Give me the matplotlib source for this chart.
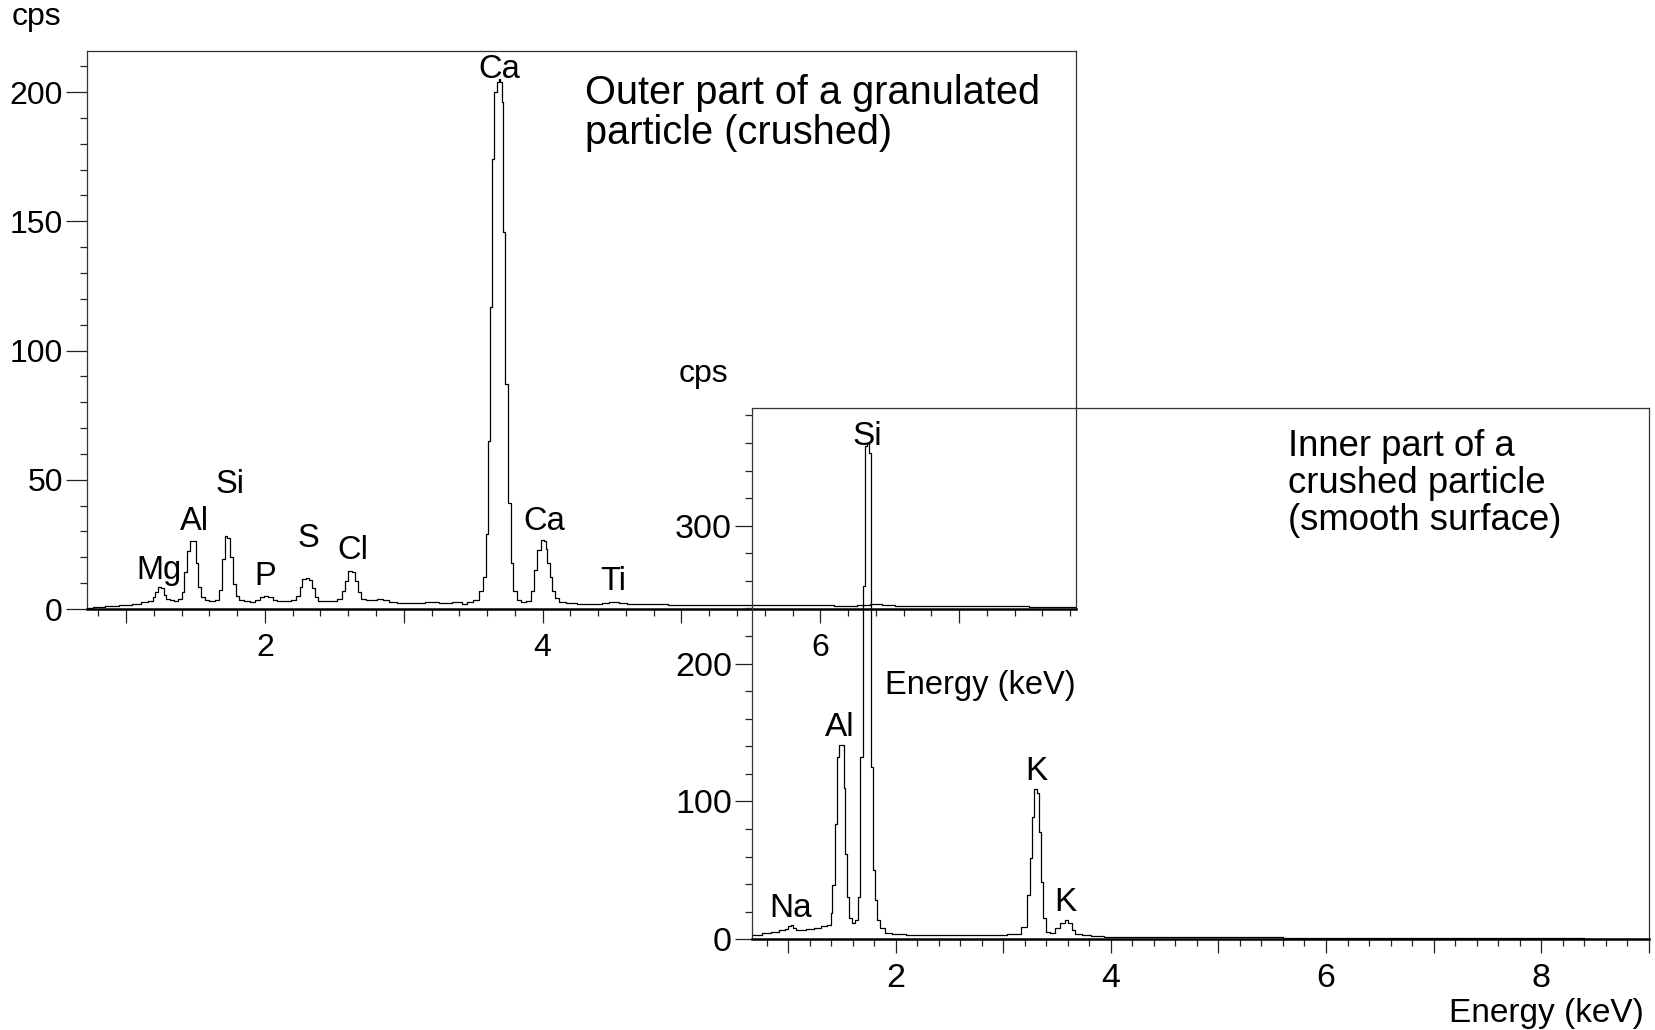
import matplotlib.pyplot as plt
from matplotlib.ticker import MultipleLocator, FuncFormatter

plt.rcParams['font.family'] = ['Liberation Sans', 'DejaVu Sans']

# outer part of a granulated particle (upper spectrum)
outer_kev = [0.72, 0.80, 0.90, 1.00, 1.08, 1.14, 1.18, 1.20, 1.22, 1.24, 1.26, 1.28, 1.30,
             1.33, 1.36, 1.39, 1.41, 1.43, 1.45, 1.47, 1.49, 1.51, 1.53, 1.55, 1.58, 1.62,
             1.66, 1.68, 1.70, 1.72, 1.74, 1.76, 1.78, 1.80, 1.83, 1.87, 1.91, 1.95, 1.98,
             2.01, 2.04, 2.07, 2.11, 2.16, 2.21, 2.24, 2.26, 2.28, 2.31, 2.33, 2.35, 2.37,
             2.40, 2.45, 2.50, 2.54, 2.57, 2.59, 2.61, 2.64, 2.66, 2.68, 2.71, 2.75, 2.79,
             2.83, 2.87, 2.92, 2.98, 3.10, 3.20, 3.30, 3.40, 3.44, 3.47, 3.52, 3.56, 3.58,
             3.60, 3.61, 3.63, 3.64, 3.66, 3.68, 3.69, 3.70, 3.71, 3.725, 3.74, 3.76, 3.78,
             3.80, 3.83, 3.86, 3.90, 3.93, 3.95, 3.975, 4.00, 4.02, 4.03, 4.04, 4.06, 4.08,
             4.10, 4.13, 4.20, 4.30, 4.40, 4.46, 4.50, 4.53, 4.57, 4.65, 4.80, 5.00, 5.20,
             5.40, 5.60, 5.80, 6.00, 6.20, 6.33, 6.38, 6.42, 6.47, 6.60, 6.80, 7.00, 7.20,
             7.40, 7.60, 7.84]
outer_cps = [0.5, 0.9, 1.3, 1.7, 2.0, 2.6, 3.2, 4.6, 6.5, 8.4, 8.0, 5.6, 4.0,
             3.4, 3.3, 4.0, 6.5, 14.5, 22.5, 26.3, 26.3, 18.0, 8.5, 4.6, 3.4, 3.0,
             3.6, 7.5, 19.5, 28.1, 27.5, 20.0, 9.5, 5.0, 3.6, 3.0, 2.9, 3.6, 4.6,
             5.2, 4.8, 3.6, 3.1, 3.0, 3.5, 5.2, 8.5, 11.6, 12.2, 11.2, 8.0, 4.8,
             3.3, 3.3, 3.3, 3.9, 6.8, 11.0, 14.7, 14.5, 10.8, 6.5, 3.9, 3.4, 3.4,
             3.8, 3.5, 2.8, 2.5, 2.5, 2.6, 2.5, 2.6, 2.0, 2.8, 3.6, 7.0, 12.5,
             28.9, 65.0, 117.0, 174.0, 200.0, 204.0, 205.0, 204.0, 196.0, 146.0, 87.0, 41.0, 18.0,
             7.0, 3.6, 2.9, 3.0, 7.0, 15.2, 22.7, 26.9, 26.2, 23.4, 18.0, 12.5, 7.0,
             4.3, 2.9, 2.2, 2.0, 2.0, 2.3, 2.9, 2.9, 2.3, 1.9, 1.8, 1.7, 1.6,
             1.6, 1.5, 1.5, 1.4, 1.3, 1.4, 2.0, 1.9, 1.5, 1.3, 1.2, 1.2, 1.1,
             1.0, 0.9, 0.8]
outer_peaks = ['Mg', 'Al', 'Si', 'P', 'S', 'Cl', 'Ca', 'Ca', 'Ti']
outer_peak_kev = [1.24, 1.49, 1.75, 2.00, 2.31, 2.63, 3.69, 4.01, 4.51]
outer_peak_cps = [15.1, 33.9, 48.3, 12.7, 27.4, 22.7, 208.6, 34.0, 10.6]

# inner part of a crushed particle (lower spectrum)
inner_kev = [0.66, 0.72, 0.80, 0.88, 0.95, 0.99, 1.01, 1.04, 1.06, 1.09, 1.13, 1.20, 1.28,
             1.34, 1.39, 1.405, 1.42, 1.445, 1.465, 1.485, 1.51, 1.525, 1.54, 1.56, 1.58,
             1.61, 1.64, 1.665, 1.68, 1.705, 1.725, 1.74, 1.76, 1.775, 1.795, 1.815, 1.835,
             1.865, 1.94, 2.00, 2.20, 2.40, 2.60, 2.80, 2.95, 3.12, 3.21, 3.24, 3.26, 3.28,
             3.30, 3.32, 3.34, 3.36, 3.38, 3.41, 3.455, 3.50, 3.55, 3.59, 3.62, 3.65, 3.69,
             3.77, 3.87, 4.00, 4.30, 4.60, 5.00, 5.40, 5.80, 6.20, 6.60, 7.00, 7.40, 7.80,
             8.20, 8.60, 9.00]
inner_cps = [2.8, 3.5, 4.5, 5.5, 6.5, 7.5, 10.0, 10.4, 8.0, 7.0, 6.6, 7.3, 8.2,
             9.5, 10.5, 18.8, 39.4, 84.0, 132.0, 141.0, 141.0, 110.0, 62.0, 31.0, 15.3,
             11.6, 14.0, 31.0, 132.0, 256.0, 358.0, 360.0, 353.0, 125.0, 50.0, 28.6, 14.0,
             8.0, 4.4, 3.6, 3.5, 3.4, 3.4, 3.3, 3.2, 4.0, 9.2, 32.0, 58.7, 89.0,
             108.7, 105.8, 78.0, 41.8, 15.3, 5.6, 4.9, 8.0, 12.1, 14.1, 12.1, 6.8, 3.9,
             3.2, 2.5, 2.0, 1.8, 1.7, 1.5, 1.4, 1.3, 1.2, 1.1, 1.0, 0.9, 0.8,
             0.7, 0.6, 0.5]
inner_peaks = ['Na', 'Al', 'Si', 'K', 'K']
inner_peak_kev = [1.02, 1.48, 1.735, 3.31, 3.58]
inner_peak_cps = [22.2, 153.8, 365.0, 121.7, 26.8]


def even_labels(v, pos):
    n = int(round(v))
    return str(n) if n % 2 == 0 else ''


def style(ax, xlim, ylim, ymajor, yminor, fs, ylen):
    ax.patch.set_visible(False)
    ax.set_xlim(xlim)
    ax.set_ylim(ylim)
    ax.xaxis.set_major_locator(MultipleLocator(1))
    ax.xaxis.set_minor_locator(MultipleLocator(0.2))
    ax.xaxis.set_major_formatter(FuncFormatter(even_labels))
    ax.yaxis.set_major_locator(MultipleLocator(ymajor))
    ax.yaxis.set_minor_locator(MultipleLocator(yminor))
    ax.tick_params(which='both', direction='out', top=False, right=False,
                   labelsize=fs, width=0.9, color='#222222')
    ax.tick_params(axis='x', which='major', length=10, pad=7)
    ax.tick_params(axis='x', which='minor', length=5)
    ax.tick_params(axis='y', which='major', length=ylen, pad=2)
    ax.tick_params(axis='y', which='minor', length=5)
    for side in ['left', 'top', 'right']:
        ax.spines[side].set_linewidth(0.9)
        ax.spines[side].set_color('#333333')
    ax.spines['bottom'].set_linewidth(1.8)
    ax.spines['bottom'].set_color('black')


fig = plt.figure(figsize=(16.55, 10.3), dpi=100)
ax1 = fig.add_axes([0.0523, 0.4087, 0.5977, 0.5421])
ax2 = fig.add_axes([0.4541, 0.0880, 0.5421, 0.5154])

ax1.plot(outer_kev, outer_cps, color='black', lw=0.9, drawstyle='steps-mid')
style(ax1, (0.715, 7.84), (0, 216), 50, 10, 23, 15)
for name, e, c in zip(outer_peaks, outer_peak_kev, outer_peak_cps):
    ax1.text(e, c, name, fontsize=23.5, ha='center', va='center')

ax2.plot(inner_kev, inner_cps, color='black', lw=0.9, drawstyle='steps-mid')
style(ax2, (0.66, 9.0), (0, 385), 100, 20, 24.5, 12)
for name, e, c in zip(inner_peaks, inner_peak_kev, inner_peak_cps):
    ax2.text(e, c, name, fontsize=24, ha='center', va='center')

# axis titles placed like the original software export
fig.text(0.0223, 0.9835, 'cps', fontsize=23, ha='center', va='center')
fig.text(0.6499, 0.334, 'Energy (keV)', fontsize=23.5, ha='right', va='center')
fig.text(0.4248, 0.6373, 'cps', fontsize=23, ha='center', va='center')
fig.text(0.993, 0.0165, 'Energy (keV)', fontsize=24, ha='right', va='center')

fig.text(584.7 / 1655, 1 - 104.5 / 1030, 'Outer part of a granulated',
         fontsize=28.6, ha='left', va='baseline')
fig.text(584.7 / 1655, 1 - 144.5 / 1030, 'particle (crushed)',
         fontsize=28.6, ha='left', va='baseline')
fig.text(1287.7 / 1655, 1 - 456 / 1030, 'Inner part of a',
         fontsize=26.3, ha='left', va='baseline')
fig.text(1287.7 / 1655, 1 - 493 / 1030, 'crushed particle',
         fontsize=26.3, ha='left', va='baseline')
fig.text(1287.7 / 1655, 1 - 530 / 1030, '(smooth surface)',
         fontsize=26.3, ha='left', va='baseline')

fig.savefig('out.png', dpi=100)
